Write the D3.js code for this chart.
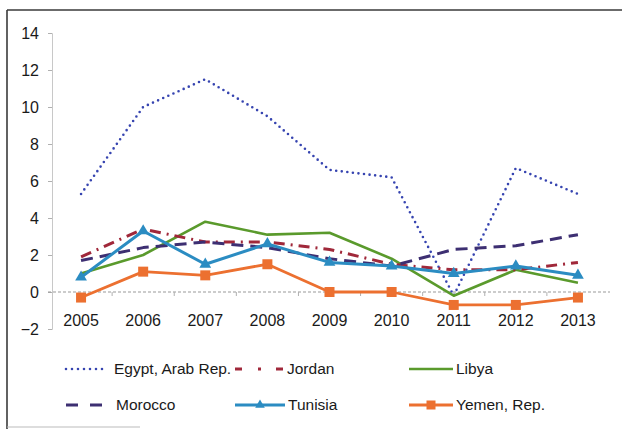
<!DOCTYPE html>
<html>
<head>
<meta charset="utf-8">
<script src="https://cdn.jsdelivr.net/npm/d3@7"></script>
<style>
  html, body { margin: 0; padding: 0; background: #fff; }
  svg { display: block; font-family: "Liberation Sans", Arial, sans-serif; }
</style>
</head>
<body>
<svg id="chart" width="622" height="429"></svg>
<script>
// Annual growth series, 2005–2013
const years = ["2005", "2006", "2007", "2008", "2009", "2010", "2011", "2012", "2013"];
const egypt   = [5.3, 10.0, 11.5, 9.5, 6.6, 6.2, -0.2, 6.7, 5.3];
const jordan  = [1.9, 3.4, 2.7, 2.7, 2.3, 1.5, 1.2, 1.2, 1.6];
const morocco = [1.7, 2.4, 2.7, 2.4, 1.8, 1.4, 2.3, 2.5, 3.1];
const libya   = [1.0, 2.0, 3.8, 3.1, 3.2, 1.8, -0.2, 1.2, 0.5];
const tunisia = [0.8, 3.3, 1.5, 2.6, 1.6, 1.4, 1.0, 1.4, 0.9];
const yemen   = [-0.3, 1.1, 0.9, 1.5, 0.0, 0.0, -0.7, -0.7, -0.3];
const yTicks  = [-2, 0, 2, 4, 6, 8, 10, 12, 14];

const series = [
  { name: "Egypt, Arab Rep.", values: egypt,   color: "#3644b0", width: 2.6, dash: "0 5.6", legendDash: "0 6", cap: "round", marker: null },
  { name: "Jordan",           values: jordan,  color: "#a0283a", width: 3,   dash: "11 6 2 6", legendDash: "7 16 3 15 7", cap: "butt", marker: null },
  { name: "Libya",            values: libya,   color: "#5a9a2c", width: 2.6, dash: null, legendDash: null, cap: "butt", marker: null },
  { name: "Morocco",          values: morocco, color: "#3d2f72", width: 3,   dash: "12 7", legendDash: "12 12", cap: "butt", marker: null },
  { name: "Tunisia",          values: tunisia, color: "#2b8cc2", width: 3,   dash: null, legendDash: null, cap: "butt", marker: "triangle" },
  { name: "Yemen, Rep.",      values: yemen,   color: "#ec7030", width: 2.8, dash: null, legendDash: null, cap: "butt", marker: "square" }
];

const svg = d3.select("#chart");

// outer frame (left and top edges, faint bottom)
svg.append("line").attr("x1", 7).attr("x2", 622).attr("y1", 10).attr("y2", 10)
  .attr("stroke", "#3a3a3a").attr("stroke-width", 1.6);
svg.append("line").attr("x1", 7).attr("x2", 7).attr("y1", 10).attr("y2", 429)
  .attr("stroke", "#3a3a3a").attr("stroke-width", 1.6);
svg.append("line").attr("x1", 7).attr("x2", 140).attr("y1", 427).attr("y2", 427)
  .attr("stroke", "#bbb").attr("stroke-width", 1);

const x = d3.scaleBand().domain(years).range([50, 609]);
const y = d3.scaleLinear().domain([-2, 14]).range([329, 33]);
const cx = d => x(d) + x.bandwidth() / 2;

// y axis
const yAxis = svg.append("g").attr("transform", "translate(52,0)")
  .call(d3.axisLeft(y).tickValues(yTicks).tickSize(4).tickPadding(9).tickFormat(d3.format("d")));
yAxis.select(".domain").attr("stroke", "#c8c8c8");
yAxis.selectAll(".tick line").attr("stroke", "#b0b0b0");
yAxis.selectAll(".tick text").attr("font-size", 16).attr("fill", "#1a1a1a")
  .attr("font-family", "'Liberation Sans', sans-serif");

// horizontal category axis along zero
const xAxis = svg.append("g").attr("transform", `translate(0,${y(0)})`);
xAxis.append("line").attr("x1", 48).attr("x2", 610).attr("y1", 0).attr("y2", 0)
  .attr("stroke", "#9a9a9a").attr("stroke-width", 1.2).attr("stroke-dasharray", "3 2");
xAxis.selectAll("line.tk").data(years.slice(1)).join("line").attr("class", "tk")
  .attr("x1", d => x(d)).attr("x2", d => x(d)).attr("y1", 0).attr("y2", 4)
  .attr("stroke", "#b0b0b0");

// category labels under the plot
svg.append("g").selectAll("text").data(years).join("text")
  .attr("x", d => cx(d)).attr("y", 326)
  .attr("text-anchor", "middle").attr("font-size", 16).attr("fill", "#1a1a1a")
  .text(d => d);

const line = d3.line().x((d, i) => cx(years[i])).y(d => y(d));

// draw lines in back-to-front order
const order = ["Egypt, Arab Rep.", "Libya", "Jordan", "Morocco", "Tunisia", "Yemen, Rep."];
order.forEach(n => {
  const s = series.find(t => t.name === n);
  const g = svg.append("g");
  g.append("path").datum(s.values).attr("d", line)
    .attr("fill", "none").attr("stroke", s.color).attr("stroke-width", s.width)
    .attr("stroke-dasharray", s.dash).attr("stroke-linecap", s.cap).attr("stroke-linejoin", "round");
  if (s.marker === "triangle") {
    g.selectAll("path.m").data(s.values).join("path").attr("class", "m")
      .attr("d", d3.symbol().type(d3.symbolTriangle).size(60))
      .attr("transform", (d, i) => `translate(${cx(years[i])},${y(d)})`)
      .attr("fill", s.color);
  } else if (s.marker === "square") {
    g.selectAll("rect.m").data(s.values).join("rect").attr("class", "m")
      .attr("x", (d, i) => cx(years[i]) - 5).attr("y", d => y(d) - 5)
      .attr("width", 10).attr("height", 10).attr("fill", s.color);
  }
});

// legend: two rows of three
const legendPos = [
  { lx: 66,  len: 42, ly: 369, tx: 114 },
  { lx: 235, len: 48, ly: 369, tx: 287 },
  { lx: 409, len: 44, ly: 369, tx: 456 },
  { lx: 66,  len: 36, ly: 405, tx: 116 },
  { lx: 235, len: 50, ly: 405, tx: 288 },
  { lx: 409, len: 44, ly: 405, tx: 456 }
];
series.forEach((s, i) => {
  const p = legendPos[i];
  const g = svg.append("g");
  g.append("line").attr("x1", p.lx).attr("x2", p.lx + p.len).attr("y1", p.ly).attr("y2", p.ly)
    .attr("stroke", s.color).attr("stroke-width", s.width)
    .attr("stroke-dasharray", s.legendDash).attr("stroke-linecap", s.cap);
  if (s.marker === "triangle") {
    g.append("path").attr("d", d3.symbol().type(d3.symbolTriangle).size(40))
      .attr("transform", `translate(${p.lx + p.len / 2},${p.ly})`).attr("fill", s.color);
  } else if (s.marker === "square") {
    g.append("rect").attr("x", p.lx + p.len / 2 - 4.5).attr("y", p.ly - 4.5)
      .attr("width", 9).attr("height", 9).attr("fill", s.color);
  }
  g.append("text").attr("x", p.tx).attr("y", p.ly).attr("dy", "0.35em")
    .attr("font-size", 15.5).attr("fill", "#1a1a1a").text(s.name);
});
</script>
</body>
</html>
